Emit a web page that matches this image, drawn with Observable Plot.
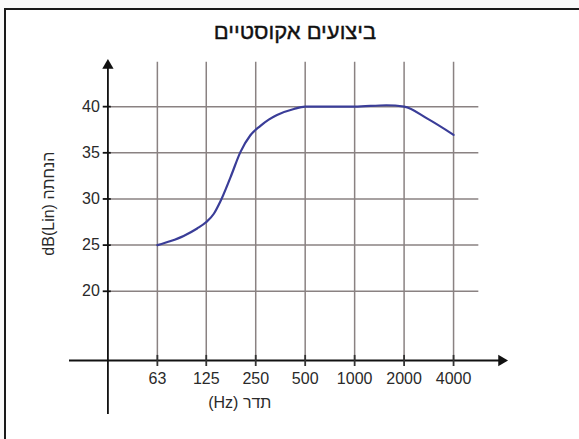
<!DOCTYPE html>
<html>
<head>
<meta charset="utf-8">
<script src="https://cdn.jsdelivr.net/npm/d3@7"></script>
<script src="https://cdn.jsdelivr.net/npm/@observablehq/plot@0.6"></script>
<style>
  html, body { margin: 0; padding: 0; background: #fff; }
  #wrap { position: relative; width: 579px; height: 439px; overflow: hidden; background: #f9f9f9; }
  #frame { position: absolute; left: 4px; top: 8px; width: 700px; height: 600px;
           border-left: 2px solid #1a1a1a; border-top: 2px solid #1a1a1a; background: #fff; }
  #title { position: absolute; left: 0; top: 19px; width: 590px; text-align: center;
           font-family: "Liberation Sans", Arial, sans-serif; font-size: 22px; color: #111; direction: rtl;
           -webkit-text-stroke: 0.4px #111; }
  #chart { position: absolute; left: 0; top: 0; }
  #chart svg { background: transparent !important; }
</style>
</head>
<body>
<div id="wrap">
  <div id="frame"></div>
  <div id="title"></div>
  <div id="chart"></div>
</div>
<script>
// ---- data ----
const titleText = "ביצועים אקוסטיים";
const xTitle = "(Hz) תדר";
const yTitle = "dB(Lin) הנחתה";
const freqs = [63, 125, 250, 500, 1000, 2000, 4000];
const freqLabels = ["63", "125", "250", "500", "1000", "2000", "4000"];
const yTicks = [20, 25, 30, 35, 40];
const yTickLabels = ["20", "25", "30", "35", "40"];
const curveHz = [63, 76, 91, 110, 125, 139, 152, 176, 202, 232, 266, 300, 337, 427, 500, 1000, 1560, 2000, 2772, 4000];
const curveDb = [25.0, 25.45, 26.0, 26.8, 27.5, 28.4, 29.7, 32.4, 35.1, 36.9, 37.9, 38.6, 39.1, 39.75, 40.0, 40.0, 40.15, 40.0, 38.7, 36.95];

// ---- layout helpers ----
const xMin = 20, xMax = 8400;      // x-axis line extent (Hz, log)
const yMin = 12.5, yMax = 45;      // y extent (dB)
const yAxisHz = 31.5;              // where the vertical axis crosses
const gridX1 = 32.6, gridX2 = 5700;
const tickX1 = 29.5, tickX2 = 33.0;

const curve = curveHz.map((f, i) => ({f, db: curveDb[i]}));
const font = "Liberation Sans, Arial, sans-serif";

const plot = Plot.plot({
  width: 579,
  height: 439,
  marginLeft: 75,
  marginRight: 73,
  marginTop: 60,
  marginBottom: 79,
  style: {background: "transparent", fontFamily: font},
  x: {type: "log", base: 2, domain: [xMin, xMax], axis: null},
  y: {domain: [yMin, yMax], axis: null},
  marks: [
    // grid
    Plot.ruleY(yTicks, {x1: gridX1, x2: gridX2, stroke: "#8a8282", strokeWidth: 1.5}),
    Plot.ruleX(freqs, {y1: yMin, y2: yMax - 0.2, stroke: "#8a8282", strokeWidth: 1.5}),
    // axis lines
    Plot.ruleY([yMin], {x1: xMin, x2: xMax, dx: -6, stroke: "#111", strokeWidth: 1.8}),
    Plot.ruleX([yAxisHz], {y1: 7.3, y2: yMax, dy: 6, stroke: "#111", strokeWidth: 1.8}),
    // arrow heads
    Plot.dot([xMax], {x: d => d, y: yMin, dx: -5, symbol: "triangle", r: 4.2, rotate: 90, fill: "#111", stroke: null}),
    Plot.dot([yMax], {x: yAxisHz, y: d => d, dy: 5, symbol: "triangle", r: 4.2, fill: "#111", stroke: null}),
    // ticks
    Plot.ruleY(yTicks, {x1: tickX1, x2: tickX2, stroke: "#111", strokeWidth: 1.8}),
    Plot.ruleX(freqs, {y1: yMin - 0.65, y2: yMin + 0.55, stroke: "#333", strokeWidth: 1.8}),
    // tick labels
    Plot.text(freqs, {x: d => d, y: yMin, dy: 18, text: (d, i) => freqLabels[i], fontSize: 16, fill: "#2a2a2a", fontFamily: font}),
    Plot.text(yTicks, {x: yAxisHz, y: d => d, dx: -8, textAnchor: "end", text: (d, i) => yTickLabels[i], fontSize: 16, fill: "#2a2a2a", fontFamily: font}),
    // curve
    Plot.line(curve, {x: "f", y: "db", curve: "monotone-x", stroke: "#3a3d98", strokeWidth: 2.2}),
    // axis titles
    Plot.text([xTitle], {x: 200, y: yMin, dy: 42, text: d => d, fontSize: 16, fill: "#2a2a2a", fontFamily: font}),
    Plot.text([yTitle], {x: xMin, y: 29.5, dx: -27, rotate: -90, text: d => d, fontSize: 16, fill: "#2a2a2a", fontFamily: font})
  ]
});
document.getElementById("title").textContent = titleText;
document.getElementById("chart").appendChild(plot);
</script>
</body>
</html>
